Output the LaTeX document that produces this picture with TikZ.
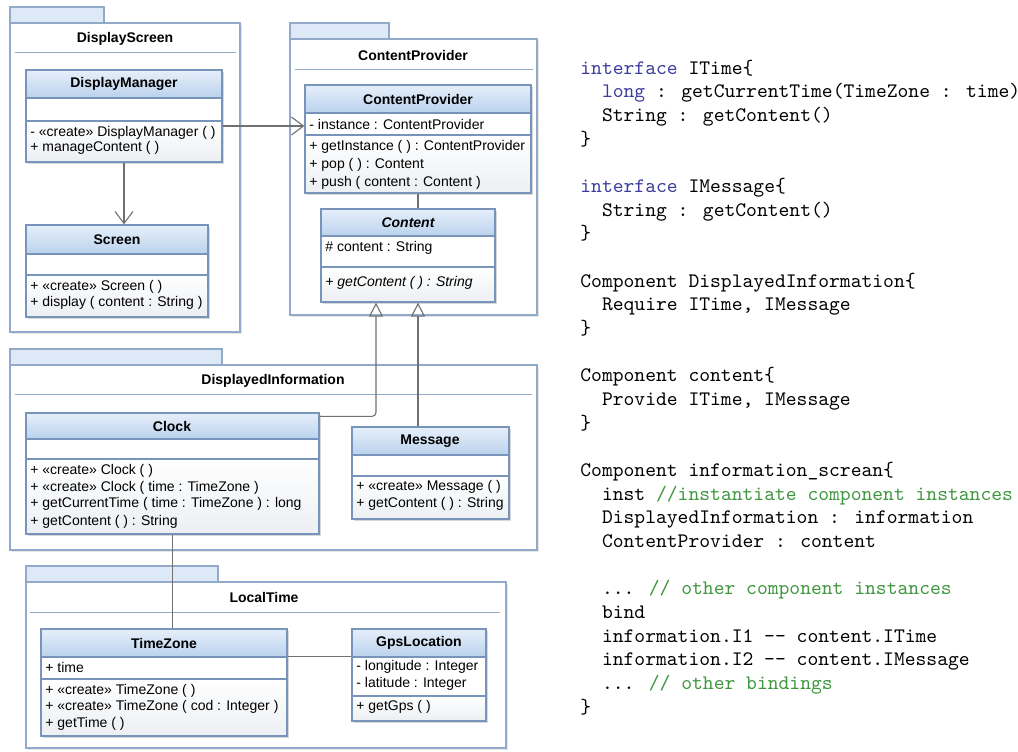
\documentclass[tikz,border=0pt]{standalone}
\usepackage{fontspec}
\setsansfont{Liberation Sans}
\usetikzlibrary{arrows.meta,fit,shadows}

\definecolor{pkgline}{RGB}{146,170,202}
\definecolor{tabfill}{RGB}{222,233,247}
\definecolor{clsline}{RGB}{120,148,186}
\definecolor{headtop}{RGB}{230,239,250}
\definecolor{headbot}{RGB}{186,210,237}
\definecolor{bodybot}{RGB}{236,239,243}
\definecolor{wire}{RGB}{112,112,112}
\definecolor{kwblue}{RGB}{60,60,158}
\definecolor{cmtgreen}{RGB}{62,150,62}

\newcommand{\kw}[1]{\textcolor{kwblue}{#1}}
\newcommand{\cmt}[1]{\textcolor{cmtgreen}{#1}}
\newcommand{\ind}{\hphantom{xx}}
\newcommand{\etc}{...}

\tikzset{
  pkg/.style={draw=pkgline, fill=white, line width=0.6pt, inner sep=0pt,
    drop shadow={shadow xshift=0.8pt, shadow yshift=-0.8pt, opacity=0.2}},
  pkgtab/.style={draw=pkgline, fill=tabfill, line width=0.6pt},
  pkgsep/.style={draw=pkgline, line width=0.5pt},
  pkgtitle/.style={inner sep=0pt, font=\sffamily\bfseries\fontsize{7}{8}\selectfont},
  cls/.style={draw=clsline, fill=white, line width=0.6pt, inner sep=0pt,
    drop shadow={shadow xshift=1pt, shadow yshift=-1pt, opacity=0.3}},
  clshead/.style={draw=clsline, line width=0.6pt, top color=headtop, bottom color=headbot},
  clsbody/.style={draw=clsline, line width=0.6pt, top color=white, bottom color=bodybot},
  clstitle/.style={inner sep=0pt, font=\sffamily\bfseries\fontsize{7}{8}\selectfont},
  member/.style={anchor=west, inner sep=0pt, font=\sffamily\fontsize{7}{8}\selectfont},
  code/.style={anchor=base west, inner sep=0pt, font=\ttfamily\fontsize{10.3}{11.8}\selectfont},
  link/.style={draw=wire, line width=0.55pt},
  assoc/.style={link, -{Straight Barb[length=6pt,width=9pt]}},
  gen/.style={link, -{Triangle[open,length=7pt,width=7pt]}}
}

\begin{document}
\begin{tikzpicture}[x=0.5pt, y=-0.5pt]
    \useasboundingbox (0,0) rectangle (1018,751);
    \fill[white] (0,0) rectangle (1018,751);

    % Packages
    \node[pkg, fit={(10,23) (240,332)}] (dspkg) {};
    \draw[pkgtab] (10,7) rectangle (104,23);
    \node[pkgtitle] (dsname) at (125,39) {DisplayScreen};
    \draw[pkgsep] (15,52) -- (236,52);

    \node[pkg, fit={(290,39) (537,315)}] (cppkg) {};
    \draw[pkgtab] (290,23) rectangle (389,39);
    \node[pkgtitle] (cpname) at (413,55) {ContentProvider};
    \draw[pkgsep] (295,69) -- (533,69);

    \node[pkg, fit={(10,365) (537,550)}] (dipkg) {};
    \draw[pkgtab] (10,349) rectangle (222,365);
    \node[pkgtitle] (diname) at (273,381) {DisplayedInformation};
    \draw[pkgsep] (15,394) -- (532,394);

    \node[pkg, fit={(26,582) (506,748)}] (ltpkg) {};
    \draw[pkgtab] (26,566) rectangle (218,582);
    \node[pkgtitle] (ltname) at (264,597) {LocalTime};
    \draw[pkgsep] (30,612) -- (500,612);

    % DisplayManager
    \node[cls, fit={(26,70) (222,162)}] (dm) {};
    \shade[clshead] (26,70) rectangle (222,98);
    \shade[clsbody] (26,121) rectangle (222,162);
    \node[clstitle] (dmt) at (124,84) {DisplayManager};
    \node[member] (dm1) at (30,133) {- «create» DisplayManager ( )};
    \node[member] (dm2) at (30,148) {+ manageContent ( )};

    % Screen
    \node[cls, fit={(26,225) (208,317)}] (scr) {};
    \shade[clshead] (26,225) rectangle (208,254);
    \shade[clsbody] (26,275) rectangle (208,317);
    \node[clstitle] (scrt) at (117,240) {Screen};
    \node[member] (scr1) at (30,287) {+ «create» Screen ( )};
    \node[member] (scr2) at (30,303) {+ display ( content : String )};

    % ContentProvider
    \node[cls, fit={(305,85) (531,193)}] (cp) {};
    \shade[clshead] (305,85) rectangle (531,113);
    \shade[clsbody] (305,135) rectangle (531,193);
    \node[clstitle] (cpt) at (418,99) {ContentProvider};
    \node[member] (cpa) at (309,124) {- instance : ContentProvider};
    \node[member] (cp1) at (309,147) {+ getInstance ( ) : ContentProvider};
    \node[member] (cp2) at (309,165) {+ pop ( ) : Content};
    \node[member] (cp3) at (309,183) {+ push ( content : Content )};

    % Content
    \node[cls, fit={(321,209) (495,302)}] (ct) {};
    \shade[clshead] (321,209) rectangle (495,236);
    \shade[clsbody] (321,267) rectangle (495,302);
    \node[clstitle] (ctt) at (408,223) {\itshape Content};
    \node[member] (cta) at (325,248) {\# content : String};
    \node[member] (ct1) at (325,283) {\itshape + getContent ( ) : String};

    % Clock
    \node[cls, fit={(26,413) (319,534)}] (clk) {};
    \shade[clshead] (26,413) rectangle (319,439);
    \shade[clsbody] (26,459) rectangle (319,534);
    \node[clstitle] (clkt) at (172,426) {Clock};
    \node[member] (clk1) at (30,471) {+ «create» Clock ( )};
    \node[member] (clk2) at (30,488) {+ «create» Clock ( time : TimeZone )};
    \node[member] (clk3) at (30,504) {+ getCurrentTime ( time : TimeZone ) : long};
    \node[member] (clk4) at (30,522) {+ getContent ( ) : String};

    % Message
    \node[cls, fit={(352,427) (509,519)}] (msg) {};
    \shade[clshead] (352,427) rectangle (509,455);
    \shade[clsbody] (352,476) rectangle (509,519);
    \node[clstitle] (msgt) at (430,441) {Message};
    \node[member] (msg1) at (356,487) {+ «create» Message ( )};
    \node[member] (msg2) at (356,504) {+ getContent ( ) : String};

    % TimeZone
    \node[cls, fit={(41,629) (287,736)}] (tz) {};
    \shade[clshead] (41,629) rectangle (287,657);
    \shade[clsbody] (41,679) rectangle (287,736);
    \node[clstitle] (tzt) at (164,643) {TimeZone};
    \node[member] (tza) at (45,667) {+ time};
    \node[member] (tz1) at (45,691) {+ «create» TimeZone ( )};
    \node[member] (tz2) at (45,707) {+ «create» TimeZone ( cod : Integer )};
    \node[member] (tz3) at (45,724) {+ getTime ( )};

    % GpsLocation
    \node[cls, fit={(352,629) (486,721)}] (gps) {};
    \shade[clshead] (352,629) rectangle (486,657);
    \shade[clsbody] (352,696) rectangle (486,721);
    \node[clstitle] (gpst) at (419,643) {GpsLocation};
    \node[member] (gpsa) at (356,667) {- longitude : Integer};
    \node[member] (gpsb) at (356,684) {- latitude : Integer};
    \node[member] (gps1) at (356,707) {+ getGps ( )};

    % Connectors
    \coordinate (dmout) at ([yshift=-5pt]dm.east);
    \coordinate (ctl) at ([xshift=-16pt]ct.south);
    \coordinate (ctr) at ([xshift=5pt]ct.south);
    \coordinate (tzout) at ([yshift=-14pt]tz.north east);
    \draw[assoc] (dm.south) -- (dm.south |- scr.north);
    \draw[assoc] (dmout) -- (dmout -| cp.west);
    \draw[link] (cp.south) -- (cp.south |- ct.north);
    \draw[gen, rounded corners=2pt] ([yshift=-2pt]clk.north east) -| (ctl);
    \draw[gen] (ctr |- msg.north) -- (ctr);
    \draw[link] (clk.south) -- (clk.south |- tz.north);
    \draw[link] (tzout) -- (tzout -| gps.west);

    % Source listing
    \foreach \src [count=\i] in {
        {\kw{interface} ITime\{},
        {\ind\kw{long} : getCurrentTime(TimeZone : time)},
        {\ind String : getContent()},
        {\}},
        {},
        {\kw{interface} IMessage\{},
        {\ind String : getContent()},
        {\}},
        {},
        {Component DisplayedInformation\{},
        {\ind Require ITime, IMessage},
        {\}},
        {},
        {Component content\{},
        {\ind Provide ITime, IMessage},
        {\}},
        {},
        {Component information\_screan\{},
        {\ind inst \cmt{//instantiate component instances}},
        {\ind DisplayedInformation : information},
        {\ind ContentProvider : content},
        {},
        {\ind\etc{} \cmt{// other component instances}},
        {\ind bind},
        {\ind information.I1 -{}- content.ITime},
        {\ind information.I2 -{}- content.IMessage},
        {\ind\etc{} \cmt{// other bindings}},
        {\}}}
      \node[code] (ln\i) at (580,{74+(\i-1)*23.67}) {\src};
\end{tikzpicture}
\end{document}
